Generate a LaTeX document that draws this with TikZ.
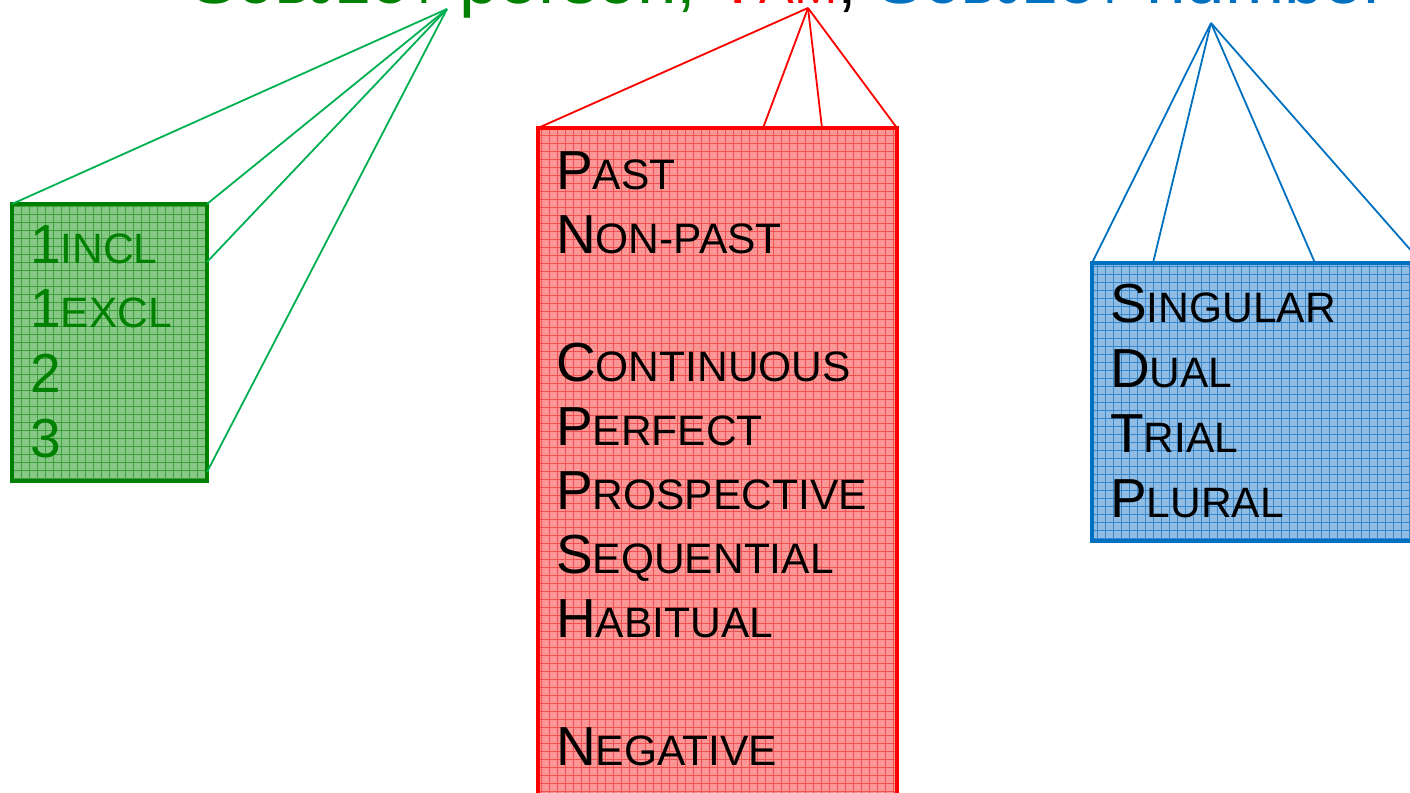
\documentclass[tikz,border=0pt]{standalone}
\usepackage{fontspec}
\setmainfont{Liberation Sans}
\usetikzlibrary{calc}
\definecolor{tgreen}{RGB}{0,128,0}
\definecolor{lgreen}{RGB}{0,176,80}
\definecolor{tred}{RGB}{255,0,0}
\definecolor{tblue}{RGB}{0,112,192}
\definecolor{gfill}{RGB}{135,200,135}
\definecolor{ggrid}{RGB}{60,160,60}
\definecolor{rfill}{RGB}{250,150,150}
\definecolor{rgrid}{RGB}{240,80,80}
\definecolor{bfill}{RGB}{145,188,228}
\definecolor{bgrid}{RGB}{55,135,205}
\newcommand{\titlesc}[2]{#1{\fontsize{52}{60}\selectfont #2}}
\newcommand{\boxsc}[2]{#1{\fontsize{42.5}{64}\selectfont #2}}
\begin{document}
\begin{tikzpicture}[x=1pt,y=-1pt,
  catbox/.style={draw, line width=4.5pt, outer sep=0pt, inner sep=0pt, anchor=north west},
  gridfill/.style={path picture={\draw[#1, line width=0.6pt] (path picture bounding box.south west) grid[step=8pt] (path picture bounding box.north east);}},
  fan/.style={line width=1.8pt},
  boxtext/.style={anchor=base west, inner sep=0pt, align=left}
]
\useasboundingbox (0,0) rectangle (1410,792);
\clip (0,0) rectangle (1410,792);

% title
\node[anchor=base west, inner sep=0pt, font=\fontsize{71}{80}\selectfont] (title) at (190,4)
  {{\color{tgreen}\titlesc{S}{UBJECT} person,} {\color{tred}\titlesc{T}{AM}}, {\color{tblue}\titlesc{S}{UBJECT} number}};

\coordinate (gapex) at (447,9);
\coordinate (rapex) at (808,8);
\coordinate (bapex) at (1211,23);

% boxes
\node[catbox, draw=tgreen, fill=gfill, gridfill=ggrid, minimum width=195pt, minimum height=277pt] (gbox) at (12,204) {};
\node[catbox, draw=tred, fill=rfill, gridfill=rgrid, minimum width=359pt, minimum height=702pt] (rbox) at (538,128) {};
\node[catbox, draw=tblue, fill=bfill, gridfill=bgrid, minimum width=330pt, minimum height=278pt] (bbox) at (1092,263) {};

% fans
\draw[fan, lgreen] (gapex) -- (gbox.north west);
\draw[fan, lgreen] (gapex) -- (gbox.north east);
\draw[fan, lgreen] (gapex) -- ($(gbox.north east)+(0,58)$);
\draw[fan, lgreen] (gapex) -- ($(gbox.north east)+(0,268)$);

\draw[fan, tred] (rapex) -- (rbox.north west);
\draw[fan, tred] (rapex) -- ($(rbox.north west)+(225,0)$);
\draw[fan, tred] (rapex) -- ($(rbox.north west)+(284,0)$);
\draw[fan, tred] (rapex) -- (rbox.north east);

\draw[fan, tblue] (bapex) -- (bbox.north west);
\draw[fan, tblue] (bapex) -- ($(bbox.north west)+(61,0)$);
\draw[fan, tblue] (bapex) -- ($(bbox.north west)+(223,0)$);
\draw[fan, tblue] (bapex) -- (bbox.north east);

% texts (anchor = baseline of last line)
\node[boxtext, text=tgreen, font=\fontsize{55}{64.6}\selectfont] (gtext) at (30,457)
  {1\boxsc{}{INCL}\\1\boxsc{}{EXCL}\\2\\3};
\node[boxtext, font=\fontsize{55}{63.9}\selectfont] (rtext) at (556,765)
  {\boxsc{P}{AST}\\\boxsc{N}{ON-PAST}\\\mbox{}\\\boxsc{C}{ONTINUOUS}\\\boxsc{P}{ERFECT}\\\boxsc{P}{ROSPECTIVE}\\\boxsc{S}{EQUENTIAL}\\\boxsc{H}{ABITUAL}\\\mbox{}\\\boxsc{N}{EGATIVE}};
\node[boxtext, font=\fontsize{55}{64.7}\selectfont] (btext) at (1110,517)
  {\boxsc{S}{INGULAR}\\\boxsc{D}{UAL}\\\boxsc{T}{RIAL}\\\boxsc{P}{LURAL}};
\end{tikzpicture}
\end{document}
